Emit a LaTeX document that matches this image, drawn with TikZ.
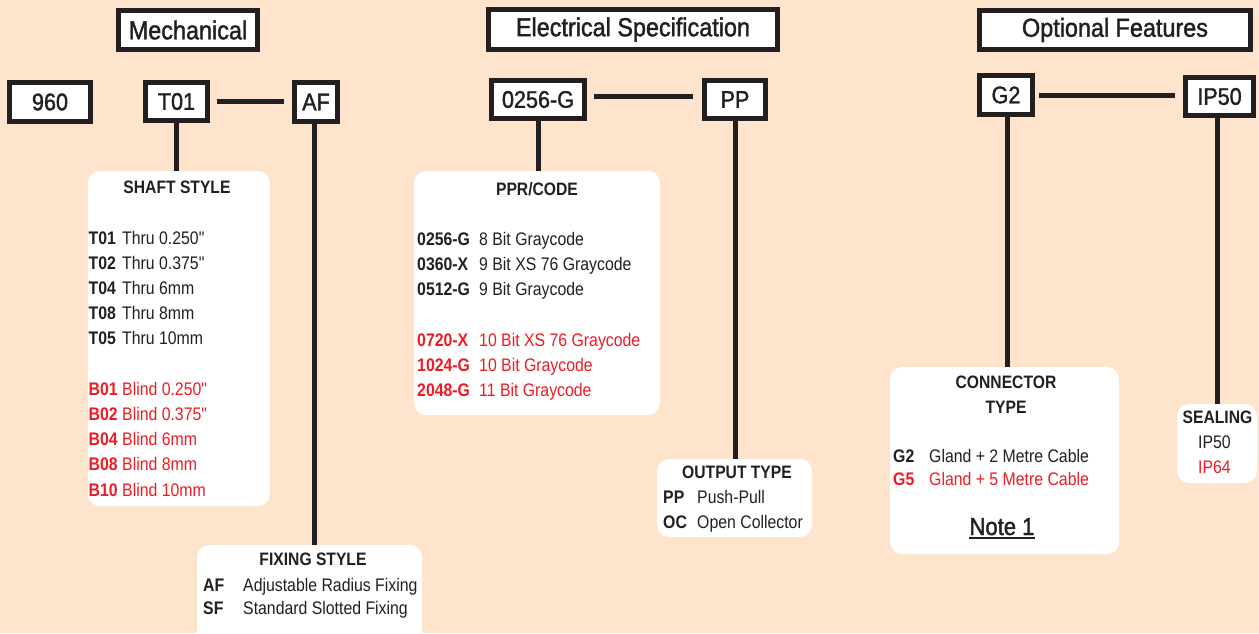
\documentclass[tikz,border=0pt]{standalone}
\usepackage{fontspec}
\setmainfont{Liberation Sans}[FakeStretch=0.87]
\newfontfamily\medfont{Liberation Sans}[FakeStretch=0.9,FakeBold=1.5]
\definecolor{bg}{RGB}{254,227,205}
\definecolor{ink}{RGB}{35,31,32}
\definecolor{redc}{RGB}{237,28,36}
\begin{document}
\begin{tikzpicture}[x=1pt,y=-1pt,
 labelbox/.style={draw=ink,line width=5pt,fill=white,inner sep=0pt,text=ink,font=\medfont\fontsize{24}{28}\selectfont},
 titlebox/.style={labelbox,font=\medfont\fontsize{26}{30}\selectfont},
 panel/.style={fill=white,rounded corners=12pt,inner sep=0pt},
 conn/.style={draw=ink,line width=5pt},
 head/.style={anchor=base,inner sep=0pt,text=ink,font=\fontsize{18}{20}\selectfont\bfseries},
 code/.style={anchor=base west,inner sep=0pt,text=ink,font=\fontsize{18.2}{20}\selectfont\bfseries},
 desc/.style={anchor=base west,inner sep=0pt,text=ink,font=\fontsize{18.2}{20}\selectfont},
 alt/.style={text=redc}]
\useasboundingbox (0,0) rectangle (1259,633);
\clip (0,0) rectangle (1259,633);
\fill[bg] (0,0) rectangle (1259,633);

% title boxes
\node[titlebox,minimum width=139pt,minimum height=39pt] (mech) at (188,30) {Mechanical};
\node[titlebox,minimum width=289pt,minimum height=40pt] (elec) at (633,29.5) {Electrical Specification};
\node[titlebox,minimum width=271pt,minimum height=39pt] (opt) at (1115,30) {Optional Features};

% code boxes
\node[labelbox,minimum width=81pt,minimum height=39pt] (n960) at (50,102) {960};
\node[labelbox,minimum width=62pt,minimum height=38pt] (t01) at (176.5,101.5) {T01};
\node[labelbox,minimum width=43pt,minimum height=39pt] (af) at (316,102) {AF};
\node[labelbox,minimum width=93pt,minimum height=38pt] (g0256) at (538,99.5) {0256-G};
\node[labelbox,minimum width=61pt,minimum height=38pt] (pp) at (735,99.5) {PP};
\node[labelbox,minimum width=53pt,minimum height=39pt] (g2) at (1006,95) {G2};
\node[labelbox,minimum width=68pt,minimum height=38pt] (ip50) at (1219.5,96.5) {IP50};

% panels
\node[panel,minimum width=182pt,minimum height=335pt] (shaft) at (179,338.5) {};
\node[panel,minimum width=225pt,minimum height=105pt] (fixing) at (309.5,597.5) {};
\node[panel,minimum width=246pt,minimum height=244pt] (ppr) at (537,293) {};
\node[panel,minimum width=155pt,minimum height=78pt] (output) at (734.5,498) {};
\node[panel,minimum width=229pt,minimum height=187pt] (connector) at (1004.5,460.5) {};
\node[panel,minimum width=80pt,minimum height=79pt] (sealing) at (1217,443.5) {};

% connectors
\draw[conn] ([xshift=7pt]t01.east) -- ([xshift=-8pt]af.west |- t01.east);
\draw[conn] ([xshift=7pt,yshift=3pt]g0256.east) -- ([xshift=-9pt,yshift=3pt]pp.west);
\draw[conn] ([xshift=4pt]g2.east) -- ([xshift=-8pt]ip50.west |- g2.east);
\draw[conn] (t01.south) -- (t01.south |- shaft.north);
\draw[conn] ([xshift=-2pt]af.south) -- ([xshift=-2pt]af.south |- fixing.north);
\draw[conn] (g0256.south) -- (g0256.south |- ppr.north);
\draw[conn] (pp.south) -- (pp.south |- output.north);
\draw[conn] ([xshift=1.5pt]g2.south) -- ([xshift=1.5pt]g2.south |- connector.north);
\draw[conn] ([xshift=-2pt]ip50.south) -- ([xshift=-2pt]ip50.south |- sealing.north);

% shaft style
\node[head] (shafth) at (177,193) {SHAFT STYLE};
\node[code] (s1c) at (88.5,244) {T01};   \node[desc] (s1d) at (122,244) {Thru 0.250\textquotedbl};
\node[code] (s2c) at (88.5,269.2) {T02}; \node[desc] (s2d) at (122,269.2) {Thru 0.375\textquotedbl};
\node[code] (s3c) at (88.5,294.4) {T04}; \node[desc] (s3d) at (122,294.4) {Thru 6mm};
\node[code] (s4c) at (88.5,319.6) {T08}; \node[desc] (s4d) at (122,319.6) {Thru 8mm};
\node[code] (s5c) at (88.5,344.8) {T05}; \node[desc] (s5d) at (122,344.8) {Thru 10mm};
\node[code,alt] (s6c) at (88.5,395.2) {B01}; \node[desc,alt] (s6d) at (122,395.2) {Blind 0.250\textquotedbl};
\node[code,alt] (s7c) at (88.5,420.4) {B02}; \node[desc,alt] (s7d) at (122,420.4) {Blind 0.375\textquotedbl};
\node[code,alt] (s8c) at (88.5,445.6) {B04}; \node[desc,alt] (s8d) at (122,445.6) {Blind 6mm};
\node[code,alt] (s9c) at (88.5,470.8) {B08}; \node[desc,alt] (s9d) at (122,470.8) {Blind 8mm};
\node[code,alt] (s10c) at (88.5,496) {B10}; \node[desc,alt] (s10d) at (122,496) {Blind 10mm};

% fixing style
\node[head] (fixh) at (313,565) {FIXING STYLE};
\node[code] (f1c) at (203,591) {AF}; \node[desc] (f1d) at (243,591) {Adjustable Radius Fixing};
\node[code] (f2c) at (203,614) {SF}; \node[desc] (f2d) at (243,614) {Standard Slotted Fixing};

% ppr/code
\node[head] (pprh) at (537,195) {PPR/CODE};
\node[code] (p1c) at (417,245) {0256-G}; \node[desc] (p1d) at (479,245) {8 Bit Graycode};
\node[code] (p2c) at (417,270) {0360-X}; \node[desc] (p2d) at (479,270) {9 Bit XS 76 Graycode};
\node[code] (p3c) at (417,295) {0512-G}; \node[desc] (p3d) at (479,295) {9 Bit Graycode};
\node[code,alt] (p4c) at (417,346) {0720-X}; \node[desc,alt] (p4d) at (479,346) {10 Bit XS 76 Graycode};
\node[code,alt] (p5c) at (417,371) {1024-G}; \node[desc,alt] (p5d) at (479,371) {10 Bit Graycode};
\node[code,alt] (p6c) at (417,396) {2048-G}; \node[desc,alt] (p6d) at (479,396) {11 Bit Graycode};

% output type
\node[head] (outh) at (737,478) {OUTPUT TYPE};
\node[code] (o1c) at (663,503) {PP}; \node[desc] (o1d) at (697,503) {Push-Pull};
\node[code] (o2c) at (663,528) {OC}; \node[desc] (o2d) at (697,528) {Open Collector};

% connector type
\node[head] (conh1) at (1006,388) {CONNECTOR};
\node[head] (conh2) at (1006,413) {TYPE};
\node[code] (c1c) at (893,462) {G2}; \node[desc] (c1d) at (929,462) {Gland + 2 Metre Cable};
\node[code,alt] (c2c) at (893,485) {G5}; \node[desc,alt] (c2d) at (929,485) {Gland + 5 Metre Cable};
\node[anchor=base,inner sep=0pt,text=ink,font=\medfont\fontsize{24.5}{28}\selectfont] (note) at (1002,535) {Note 1};
\draw[ink,line width=1.5pt] ([yshift=-3pt]note.base west) -- ([yshift=-3pt]note.base east);

% sealing
\node[head] (sealh) at (1217.5,423) {SEALING};
\node[desc] (se1) at (1198,448) {IP50};
\node[desc,alt] (se2) at (1198,473) {IP64};
\end{tikzpicture}
\end{document}
